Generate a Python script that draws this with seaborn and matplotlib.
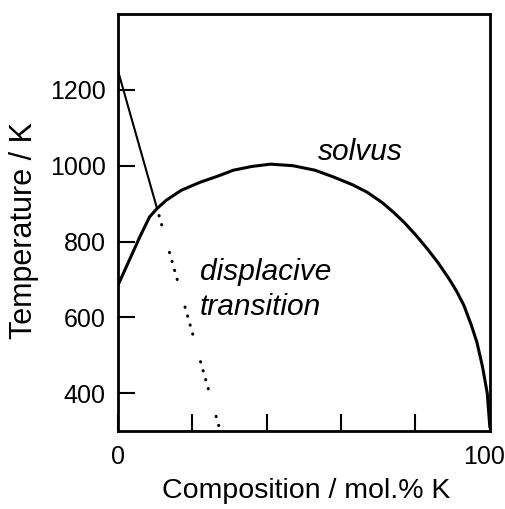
import matplotlib
matplotlib.use("Agg")
import matplotlib.pyplot as plt
import matplotlib.transforms as mtransforms
import seaborn as sns
import pandas as pd

# solvus curve (composition mol.% K, temperature K)
solvus_x = [0, 3, 6, 8.5, 10.5, 13, 17, 22, 27, 31, 36, 41, 47, 53, 58, 63, 67, 71, 74, 77, 80, 83, 86, 89, 91, 93, 95, 96.5, 98, 99.3, 100]
solvus_t = [685, 750, 815, 865, 887, 909, 935, 956, 973, 988, 998, 1004, 1000, 988, 970, 950, 930, 903, 878, 850, 818, 783, 745, 702, 670, 632, 580, 535, 471, 400, 310]

# straight line from the left axis down to the solvus
upper_x = [0, 10.5]
upper_t = [1250, 887]

# dotted displacive transition line
disp_x = [10.5, 27.5]
disp_t = [887, 300]

x_ticks = [0, 20, 40, 60, 80, 100]
x_labels = ["0", "", "", "", "", "100"]
y_ticks = [400, 600, 800, 1000, 1200]

sns.set_style("ticks")
plt.rcParams["font.family"] = ["Liberation Sans", "DejaVu Sans"]
plt.rcParams["text.color"] = "black"
plt.rcParams["axes.labelcolor"] = "black"
plt.rcParams["xtick.color"] = "black"
plt.rcParams["ytick.color"] = "black"

fig = plt.figure(figsize=(5.05, 5.09), dpi=100)
ax = fig.add_axes([0.2337, 0.153, 0.7363, 0.8195])

sol = pd.DataFrame({"x": solvus_x, "t": solvus_t})
sns.lineplot(data=sol, x="x", y="t", color="black", lw=2.2, ax=ax, sort=False)
sns.lineplot(x=upper_x, y=upper_t, color="black", lw=1.5, ax=ax)
ax.plot(disp_x, disp_t, color="black", lw=2.2, dash_capstyle="round",
        linestyle=(3.7, (0.1, 2.95, 0.1, 2.95, 0.1, 2.95, 0.1, 9.35)))

ax.set_xlim(0, 100)
ax.set_ylim(300, 1400)
ax.set_xticks(x_ticks)
ax.set_xticklabels(x_labels)
ax.set_yticks(y_ticks)
ax.tick_params(direction="in", length=12, width=1.5, labelsize=18, pad=9)
ax.tick_params(axis="x", pad=10)
for s in ax.spines.values():
    s.set_linewidth(2)
    s.set_color("black")

# nudge the "100" label left so it stays inside the figure
lbl = ax.get_xticklabels()[-1]
lbl.set_transform(lbl.get_transform() + mtransforms.ScaledTranslation(-6 / 100, 0, fig.dpi_scale_trans))

ax.set_xlabel("Composition / mol.% K", fontsize=20.5)
ax.set_ylabel("Temperature / K", fontsize=22)
ax.xaxis.set_label_coords(0.505, -0.112)
ax.yaxis.set_label_coords(-0.213, 0.48)

ax.text(53.8, 1014, "solvus", fontsize=21.5, style="italic", ha="left", va="baseline")
ax.text(22, 699, "displacive", fontsize=21.5, style="italic", ha="left", va="baseline")
ax.text(22, 607, "transition", fontsize=21.5, style="italic", ha="left", va="baseline")

fig.savefig("out.png", dpi=100)
